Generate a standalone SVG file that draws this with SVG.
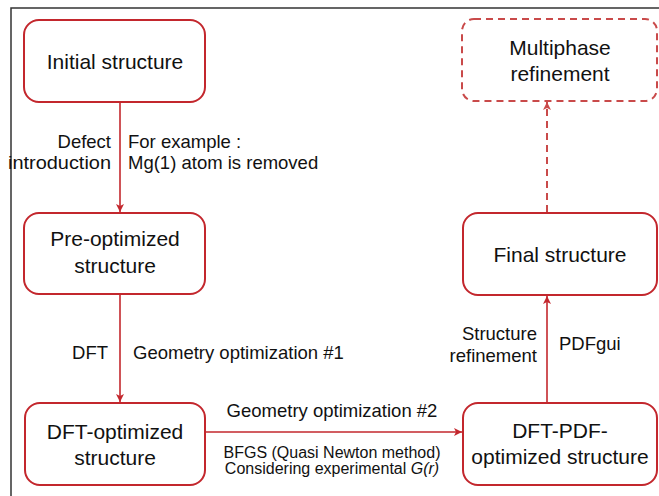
<svg xmlns="http://www.w3.org/2000/svg" width="659" height="496" viewBox="0 0 659 496">
<defs>
<style>
.box{fill:#fff;stroke:#c3272d;stroke-width:2}
.dbox{fill:#fff;stroke:#c94a4a;stroke-width:2;stroke-dasharray:7 5}
.bt{font-family:"Liberation Sans",Arial,sans-serif;font-size:21px;fill:#111;text-anchor:middle}
.lb{font-family:"Liberation Sans",Arial,sans-serif;font-size:18.5px;fill:#111}
.sm{font-family:"Liberation Sans",Arial,sans-serif;font-size:16px;fill:#111}
.ar{stroke:#c3272d;stroke-width:1.6;fill:none}
.dar{stroke:#c94a4a;stroke-width:2;fill:none;stroke-dasharray:7 5}
</style>
<marker id="ah" markerWidth="10" markerHeight="10" refX="9" refY="5" orient="auto" markerUnits="userSpaceOnUse">
<path d="M1,1 L9,5 L1,9 L3,5 Z" fill="#c3272d"/>
</marker>
<marker id="dah" markerWidth="10" markerHeight="10" refX="9" refY="5" orient="auto" markerUnits="userSpaceOnUse">
<path d="M1,1 L9,5 L1,9 L3,5 Z" fill="#c94a4a"/>
</marker>
</defs>
<rect width="659" height="496" fill="#fff"/>
<path d="M11,496 V8 H659" fill="none" stroke="#333" stroke-width="1.5"/>

<g id="connectors">
<line class="ar" x1="120" y1="103" x2="120" y2="212" marker-end="url(#ah)"/>
<line class="ar" x1="120" y1="294" x2="120" y2="402" marker-end="url(#ah)"/>
<line class="ar" x1="206" y1="432" x2="462" y2="432" marker-end="url(#ah)"/>
<line class="ar" x1="547" y1="402" x2="547" y2="296" marker-end="url(#ah)"/>
<line class="dar" x1="547" y1="212" x2="547" y2="102" marker-end="url(#dah)"/>
<text class="lb" x="111" y="148" text-anchor="end">Defect</text>
<text class="lb" x="8" y="169" textLength="103" lengthAdjust="spacingAndGlyphs">introduction</text>
<text class="lb" x="128" y="148">For example :</text>
<text class="lb" x="128" y="169">Mg(1) atom is removed</text>
<text class="lb" x="108" y="359" text-anchor="end">DFT</text>
<text class="lb" x="133" y="359">Geometry optimization #1</text>
<text class="lb" x="332" y="417" text-anchor="middle">Geometry optimization #2</text>
<text class="sm" x="332" y="458" text-anchor="middle">BFGS (Quasi Newton method)</text>
<text class="sm" x="332" y="474" text-anchor="middle">Considering experimental <tspan font-style="italic">G(r)</tspan></text>
<text class="lb" x="537" y="340" text-anchor="end">Structure</text>
<text class="lb" x="537" y="362" text-anchor="end">refinement</text>
<text class="lb" x="559" y="350">PDFgui</text>
</g>

<g id="initial">
<rect class="box" x="24" y="20" width="181" height="82" rx="15"/>
<text class="bt" x="115" y="69">Initial structure</text>
</g>
<g id="preopt">
<rect class="box" x="24" y="213" width="181" height="81" rx="15"/>
<text class="bt" x="115" y="246">Pre-optimized</text>
<text class="bt" x="115" y="273">structure</text>
</g>
<g id="dftopt">
<rect class="box" x="25" y="403" width="180" height="82" rx="15"/>
<text class="bt" x="115" y="439">DFT-optimized</text>
<text class="bt" x="115" y="465">structure</text>
</g>
<g id="dftpdf">
<rect class="box" x="463" y="403" width="194" height="82" rx="15"/>
<text class="bt" x="560" y="438">DFT-PDF-</text>
<text class="bt" x="560" y="464">optimized structure</text>
</g>
<g id="final">
<rect class="box" x="463" y="213" width="194" height="82" rx="15"/>
<text class="bt" x="560" y="262">Final structure</text>
</g>
<g id="multiphase">
<rect class="dbox" x="462" y="19" width="195" height="82" rx="12"/>
<text class="bt" x="560" y="55">Multiphase</text>
<text class="bt" x="560" y="81">refinement</text>
</g>
</svg>
